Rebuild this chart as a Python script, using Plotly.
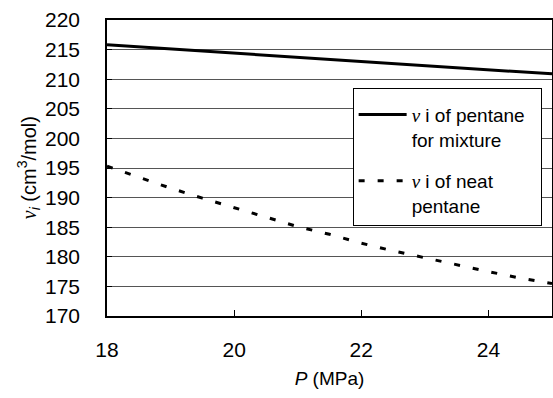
import plotly.graph_objects as go

# Data
pressure = [18, 18.5, 19, 19.5, 20, 20.5, 21, 21.5, 22, 22.5, 23, 23.5, 24, 24.5, 25]
v_mixture = [215.8, 215.45, 215.1, 214.75, 214.4, 214.05, 213.7, 213.35, 213.0,
             212.65, 212.3, 211.95, 211.6, 211.25, 210.9]
v_neat = [195.3, 193.4, 191.6, 189.9, 188.3, 186.7, 185.1, 183.8, 182.3,
          181.0, 179.8, 178.6, 177.5, 176.4, 175.5]
x_ticks = [18, 20, 22, 24]
y_ticks = [170, 175, 180, 185, 190, 195, 200, 205, 210, 215, 220]

NU = "<span style='font-family:Liberation Serif'><i>ν</i></span>"
PAD = "\u00a0" * 2
name_mix = NU + " i of pentane" + PAD + "<br>for mixture"
name_neat = NU + " i of neat<br>pentane"
y_title = NU + "<sub><i>i</i></sub> (cm<sup>3</sup>/mol)"

FONT = "Liberation Sans, Arial, sans-serif"

fig = go.Figure()
fig.add_trace(go.Scatter(x=pressure, y=v_mixture, mode="lines", name=name_mix,
                         legendgroup="a",
                         line=dict(color="black", width=3)))
fig.add_trace(go.Scatter(x=pressure, y=v_neat, mode="lines", name=name_neat,
                         legendgroup="b",
                         line=dict(color="black", width=3, dash="6px,13px")))

fig.update_layout(
    width=553, height=398,
    margin=dict(l=107, r=1, t=20, b=82, autoexpand=False),
    paper_bgcolor="white", plot_bgcolor="white",
    font=dict(family=FONT, color="black"),
    legend=dict(
        x=0.552, y=0.77, xanchor="left", yanchor="top",
        bgcolor="white", bordercolor="black", borderwidth=1,
        font=dict(size=19, family=FONT),
        valign="top", tracegroupgap=14, itemwidth=48,
        title=dict(text="\u00a0", font=dict(size=5)),
    ),
    xaxis=dict(
        range=[18, 25], tickvals=x_ticks, ticktext=[str(t) for t in x_ticks],
        ticks="inside", ticklen=6, tickcolor="black",
        showline=True, linecolor="black", linewidth=1.5, mirror=True,
        showgrid=False, zeroline=False, automargin=False,
        tickfont=dict(size=21), ticklabelstandoff=14,
        title=dict(text="<i>P</i> (MPa)", font=dict(size=19), standoff=12),
    ),
    yaxis=dict(
        range=[170, 220], tickvals=y_ticks, ticktext=[str(t) for t in y_ticks],
        ticks="inside", ticklen=5, tickcolor="black",
        showline=True, linecolor="black", linewidth=1.5, mirror=True,
        showgrid=True, gridcolor="#555555", gridwidth=1, zeroline=False,
        automargin=False,
        tickfont=dict(size=21), ticklabelstandoff=21,
    ),
    annotations=[dict(
        text=y_title, textangle=-90, showarrow=False,
        xref="paper", yref="paper", x=-0.177, y=0.5,
        xanchor="center", yanchor="middle", font=dict(size=20),
    )],
)

fig.write_html(
    "out.html",
    config={"displayModeBar": False},
    post_script="document.body.style.margin='0';document.body.style.overflow='hidden';",
)
